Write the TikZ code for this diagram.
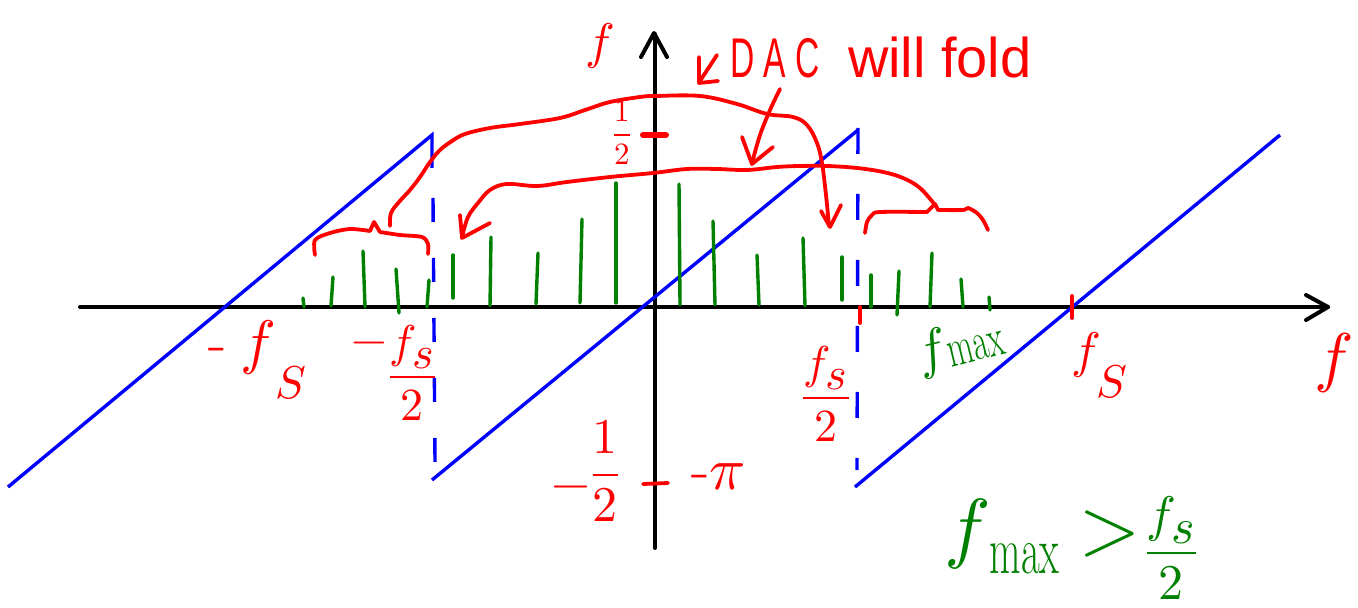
\documentclass[tikz,border=0pt]{standalone}
\usepackage{amsmath}
\usepackage{fontspec}
\usepackage{unicode-math}
\newfontfamily\handfont{Liberation Sans}
\newcommand\myfs[1]{\fontsize{#1}{#1}\selectfont}
\definecolor{inkred}{RGB}{255,0,0}
\definecolor{inkblue}{RGB}{0,0,255}
\definecolor{inkgreen}{RGB}{0,128,0}
\begin{document}
\begin{tikzpicture}[x=0.5pt,y=-0.5pt,
  ax/.style={line width=2pt,black,line cap=round,line join=round},
  saw/.style={line width=1.7pt,inkblue},
  ink/.style={line width=1.9pt,inkred,line cap=round,line join=round},
  stem/.style={line width=1.7pt,inkgreen,line cap=round},
  lab/.style={text=inkred,inner sep=0pt},
  glab/.style={text=inkgreen,inner sep=0pt}]
\useasboundingbox (0,0) rectangle (1358,608);

% axes
\draw[ax] (80,307) -- (1328,307);
\draw[ax] (1306,295) -- (1328,307) -- (1306,320);
\draw[ax] (655,548) -- (655,34);
\draw[ax] (641,57) -- (654,33) -- (667,57);

% blue sawtooth
\draw[saw] (8,487) -- (432,135) -- (432,168);
\draw[saw,dash pattern=on 12pt off 18pt] (433,198) -- (435,462);
\draw[saw] (432,480) -- (858,130);
\draw[saw,dash pattern=on 13pt off 20pt] (858,128) -- (857,470);
\draw[saw] (855,487) -- (1280,135);

% green spectral lines
\foreach \xa/\ya/\xb/\yb in {303/298/304/307, 333/277/331/306, 363/251/365/307,
  396/269/399/313, 429/280/427/307, 453/255/453/298, 491/237/490/306,
  538/253/536/304, 582/219/580/303, 616/183/616/303, 679/184/680/305,
  713/221/715/305, 757/255/759/305, 803/238/805/306, 842/257/842/300,
  871/275/871/307, 899/271/897/315, 932/253/930/307, 961/279/963/307,
  989/297/990/310}
  \draw[stem] (\xa,\ya) -- (\xb,\yb);

% red ticks
\draw[ink] (860,307) -- (860,323);
\draw[ink] (1072,296) -- (1072,318);
\draw[ink,line width=3pt] (643,135) -- (666,135);
\draw[ink] (643,484) -- (668,483);

% left bracket
\draw[ink] plot[smooth,tension=0.5] coordinates {(315,255) (315,240) (330,233) (350,229) (370,231)}
  -- (374,222) -- plot[smooth,tension=0.5] coordinates {(380,232) (400,235) (422,237) (428,244) (428,254)};
% right bracket
\draw[ink] plot[smooth,tension=0.5] coordinates {(865,233) (867,222) (872,215) (880,212) (927,212)}
  -- (935,204) -- plot[smooth,tension=0.5] coordinates {(938,210) (963,210) (968,208) (977,213) (983,220) (988,230)};

% fold arc from left band to right
\draw[ink] plot[smooth,tension=0.6] coordinates {(390,226) (391,213) (399,202) (410,190) (420,177)
  (430,162) (440,150) (452,141) (465,134) (490,128) (520,124) (560,118) (585,110) (610,102)
  (640,97) (655,96) (700,96) (737,104) (767,114) (793,117) (807,125) (817,143) (822,163)
  (826,195) (829,226)};
\draw[ink] (821,211) -- (830,227) -- (841,205);

% fold arc from right band to left
\draw[ink] plot[smooth,tension=0.6] coordinates {(935,205) (920,188) (903,178) (883,172) (857,168)
  (827,166) (800,166) (777,167) (747,170) (717,169) (687,169) (653,173) (610,177) (567,182)
  (537,186) (507,184) (490,190) (478,203) (468,217) (462,237)};
\draw[ink] (460,215) -- (462,238) -- (490,223);

% arrow from the note
\draw[ink] plot[smooth,tension=0.5] coordinates {(780,89) (770,110) (760,135) (752,163)};
\draw[ink] (742,137) -- (752,164) -- (773,147);
% small arrow before the note
\draw[ink] (699,57) -- (699,83) -- (718,81);
\draw[ink] (700,81) -- (717,55);

% labels
\node[lab,font=\myfs{25}] (fy) at (600,46) {$f$};
\node[lab,font=\myfs{33}] (fx) at (1334,363) {$f$};
\node[lab,anchor=base west,font=\myfs{30}] (mfs) at (208,363) {-\hspace{7pt}$f$\raisebox{-18pt}{\myfs{23}$S$}};
\node[lab,anchor=base west,font=\myfs{23}] (mfs2) at (351,388.5) {$\raisebox{17pt}{$-$}\dfrac{f_{\textstyle s}}{2}$};
\node[lab,anchor=base,font=\myfs{23}] (fs2) at (826,409.5) {$\dfrac{f_{\textstyle s}}{2}$};
\node[lab,anchor=base west,font=\myfs{25}] (fS) at (1071,368) {$f$\kern-2pt\raisebox{-15pt}{\myfs{23}$S$}};
\node[glab,rotate=14,font=\myfs{27}] (fmax) at (960,347) {$f$\raisebox{-2pt}{\scalebox{0.62}[1]{max}}};
\node[lab,anchor=base west,font=\myfs{25}] (mhalf) at (551,487.5) {$\raisebox{-6pt}{$-$}\dfrac{1}{2}$};
\node[lab,font=\myfs{30}] (mpi) at (718,477) {-$\pi$};
\node[lab,anchor=base,font=\myfs{15.5}] (half) at (622,142.75) {$\dfrac{1}{2}$};
\node[lab,anchor=base west,font=\handfont\myfs{28}] (dac) at (730,78) {\scalebox{0.6}[1]{D A C}\hspace{14pt}will fold};
\node[glab,anchor=base west,font=\myfs{39}] (ineq) at (944,553)
  {$f$\raisebox{-10pt}{\myfs{34}\scalebox{0.6}[1]{max}}\hspace{10pt}$>$\hspace{2pt}\raisebox{-6pt}{\myfs{25}$\dfrac{f_{\textstyle s}}{2}$}};
\end{tikzpicture}
\end{document}
